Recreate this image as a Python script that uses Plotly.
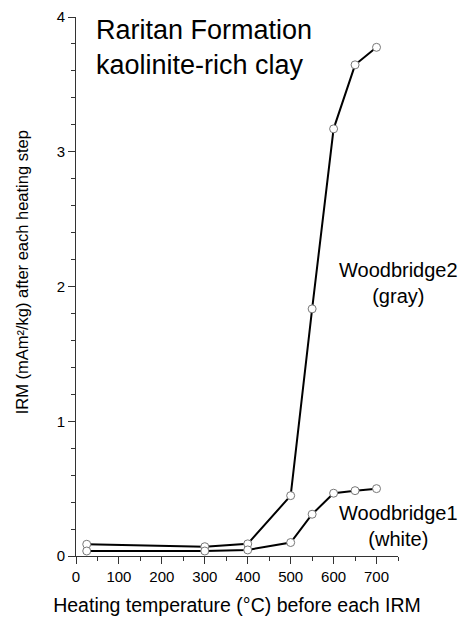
import plotly.graph_objects as go

temps_gray = [25, 300, 400, 500, 550, 600, 650, 700]
irm_gray = [0.087, 0.069, 0.09, 0.448, 1.834, 3.17, 3.645, 3.775]
temps_white = [25, 300, 400, 500, 550, 600, 650, 700]
irm_white = [0.037, 0.037, 0.045, 0.10, 0.31, 0.466, 0.485, 0.50]

x_ticks = [0, 100, 200, 300, 400, 500, 600, 700]
y_ticks = [0, 1, 2, 3, 4]

FONT = "Liberation Sans, Arial, sans-serif"

fig = go.Figure()
for xs, ys, name in [(temps_gray, irm_gray, "Woodbridge2 (gray)"),
                     (temps_white, irm_white, "Woodbridge1 (white)")]:
    fig.add_trace(go.Scatter(
        x=xs, y=ys, name=name, mode="lines+markers",
        line=dict(color="black", width=2),
        marker=dict(size=8, color="white", line=dict(color="#777777", width=1)),
        cliponaxis=False, showlegend=False,
    ))

fig.update_layout(
    width=462, height=617,
    margin=dict(l=76, r=64, t=17, b=61, autoexpand=False),
    paper_bgcolor="white", plot_bgcolor="white",
    font=dict(family=FONT, color="black", size=15),
    xaxis=dict(
        range=[0, 750], tickvals=x_ticks, ticks="outside", ticklen=7, tickwidth=1,
        tickcolor="#333", showline=True, linecolor="#333", linewidth=1, automargin=False,
        showgrid=False, zeroline=False, tickfont=dict(size=15),
        minor=dict(dtick=50, tick0=0, ticks="outside", ticklen=4, tickcolor="#333", showgrid=False),
        title=dict(text="Heating temperature (°C) before each IRM", font=dict(size=19.5), standoff=14),
    ),
    yaxis=dict(
        range=[0, 4], tickvals=y_ticks, ticks="outside", ticklen=7, tickwidth=1,
        tickcolor="#333", showline=True, linecolor="#333", linewidth=1, automargin=False,
        showgrid=False, zeroline=False, tickfont=dict(size=15),
        minor=dict(dtick=0.2, tick0=0, ticks="outside", ticklen=4, tickcolor="#333", showgrid=False),
    ),
    annotations=[
        dict(x=-0.165, y=0.526, xref="paper", yref="paper", xanchor="center", yanchor="middle",
             text="IRM (mAm²/kg) after each heating step", textangle=-90, showarrow=False,
             font=dict(size=16.5, family=FONT)),
        dict(x=0.056, y=1.007, xref="paper", yref="paper", xanchor="left", yanchor="top",
             text="Raritan Formation<br>kaolinite-rich clay", showarrow=False, align="left",
             font=dict(size=27, family=FONT)),
        dict(x=1.0, y=0.507, xref="paper", yref="paper", xanchor="center", yanchor="middle",
             text="Woodbridge2<br>(gray)", showarrow=False, align="center",
             font=dict(size=20, family=FONT)),
        dict(x=1.0, y=0.056, xref="paper", yref="paper", xanchor="center", yanchor="middle",
             text="Woodbridge1<br>(white)", showarrow=False, align="center",
             font=dict(size=20, family=FONT)),
    ],
)

fig.write_html("out.html")
